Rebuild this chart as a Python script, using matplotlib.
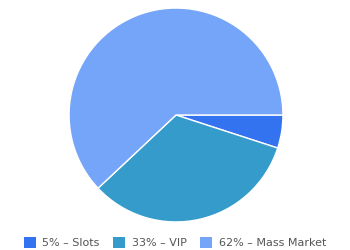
import matplotlib
matplotlib.use("Agg")
import matplotlib.pyplot as plt
from matplotlib.patches import Patch

labels = ["Slots", "VIP", "Mass Market"]
shares = [5, 33, 62]
colors = ["#3373f0", "#359bcb", "#75a5f8"]

fig = plt.figure(figsize=(3.5, 2.5), dpi=100)
ax = fig.add_axes([68 / 350, 27 / 250, 216 / 350, 216 / 250])
ax.pie(shares, colors=colors, startangle=0, counterclock=False,
       wedgeprops=dict(edgecolor="white", linewidth=1))
ax.set_xlim(-1.01, 1.01)
ax.set_ylim(-1.01, 1.01)
ax.set_aspect("equal")

handles = [Patch(facecolor=c, edgecolor="none") for c in colors]
texts = [f"{v}% \u2013 {l}" for v, l in zip(shares, labels)]
fig.legend(handles, texts, loc="center", bbox_to_anchor=(0.5, 0.03),
           ncol=3, frameon=False, fontsize=8, labelcolor="#555555",
           handlelength=1.1, handleheight=1.1, columnspacing=1.2,
           handletextpad=0.6)

fig.savefig("out.png", dpi=100)
